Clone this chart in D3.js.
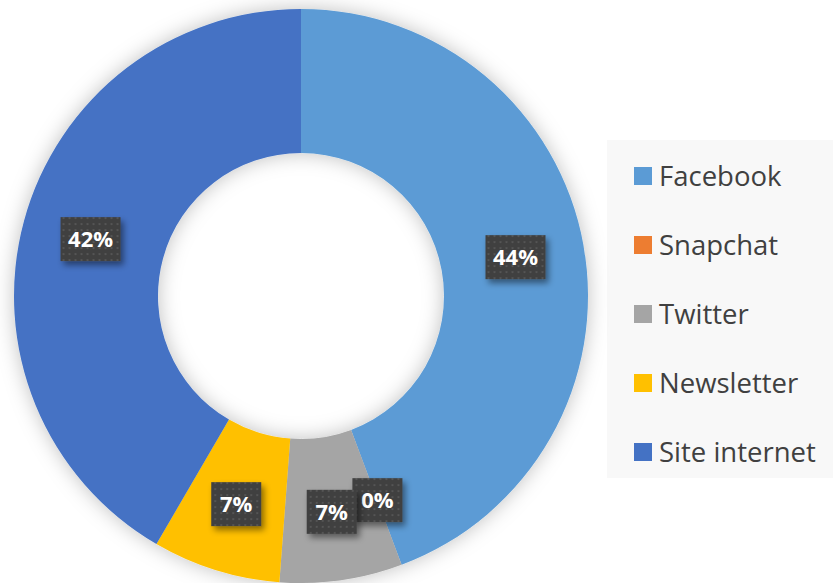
<!DOCTYPE html>
<html>
<head>
<meta charset="utf-8">
<script src="https://cdn.jsdelivr.net/npm/d3@7"></script>
<style>
  body { margin: 0; background: #fff; }
  svg { display: block; font-family: "Open Sans", "Noto Sans", sans-serif; }
</style>
</head>
<body>
<svg id="chart" width="833" height="583"></svg>
<script>
// chart values (percent of answers)
var categories = ["Facebook", "Snapchat", "Twitter", "Newsletter", "Site internet"];
var values = [44.3, 0, 6.9, 7.2, 41.6];
var colors = ["#5B9BD5", "#ED7D31", "#A5A5A5", "#FFC000", "#4472C4"];

var svg = d3.select("#chart");
var cx = 301, cy = 296, outerR = 287, innerR = 143;

var defs = svg.append("defs");

// soft glow around the ring
var glow = defs.append("filter").attr("id", "glow")
  .attr("x", "-20%").attr("y", "-20%").attr("width", "140%").attr("height", "140%");
glow.append("feDropShadow").attr("dx", 0).attr("dy", 0)
  .attr("stdDeviation", 10).attr("flood-color", "#000").attr("flood-opacity", 0.25);

// label box shadow
var boxShadow = defs.append("filter").attr("id", "boxShadow")
  .attr("x", "-30%").attr("y", "-30%").attr("width", "160%").attr("height", "170%");
boxShadow.append("feDropShadow").attr("dx", 3).attr("dy", 4)
  .attr("stdDeviation", 3).attr("flood-color", "#000").attr("flood-opacity", 0.45);

// dotted fill of the labels
var pat = defs.append("pattern").attr("id", "dots")
  .attr("patternUnits", "userSpaceOnUse").attr("width", 6).attr("height", 6);
pat.append("rect").attr("width", 6).attr("height", 6).attr("fill", "#3f3f3f");
pat.append("rect").attr("x", 2).attr("y", 2).attr("width", 2).attr("height", 2).attr("fill", "#555");

// legend background
svg.append("rect")
  .attr("x", 607).attr("y", 140).attr("width", 226).attr("height", 338)
  .attr("fill", "#f8f8f8");

var pie = d3.pie().sort(null).value(function(d){ return d; });
var arcs = pie(values);

var arc = d3.arc().innerRadius(innerR).outerRadius(outerR);
var labelArc = d3.arc().innerRadius(218).outerRadius(218);

var g = svg.append("g").attr("transform", "translate(" + cx + "," + cy + ")");

g.append("g").attr("filter", "url(#glow)")
  .selectAll("path")
  .data(arcs)
  .enter().append("path")
  .attr("d", arc)
  .attr("fill", function(d, i){ return colors[i]; });

// data labels
var fmt = function(v){
  var total = d3.sum(values);
  return Math.round(v / total * 100) + "%";
};

var label = g.selectAll(".lbl")
  .data(arcs)
  .enter().append("g")
  .attr("class", "lbl")
  .attr("transform", function(d){
    var c = labelArc.centroid(d);
    return "translate(" + c[0] + "," + c[1] + ")";
  });

label.append("rect")
  .attr("x", function(d){ return fmt(d.value).length > 2 ? -30 : -25; })
  .attr("y", -22)
  .attr("width", function(d){ return fmt(d.value).length > 2 ? 60 : 50; })
  .attr("height", 44)
  .attr("fill", "url(#dots)")
  .attr("filter", "url(#boxShadow)");

label.append("text")
  .attr("text-anchor", "middle")
  .attr("dy", "0.36em")
  .attr("fill", "#fff")
  .attr("font-weight", "bold")
  .attr("font-size", 22)
  .text(function(d){ return fmt(d.value); });

// legend
var legend = svg.append("g")
  .selectAll("g")
  .data(categories)
  .enter().append("g")
  .attr("transform", function(d, i){ return "translate(634," + (176 + i * 69) + ")"; });

legend.append("rect")
  .attr("x", 0).attr("y", -9).attr("width", 18).attr("height", 18)
  .attr("fill", function(d, i){ return colors[i]; });

legend.append("text")
  .attr("x", 25).attr("dy", "0.36em")
  .attr("font-size", 27.5)
  .attr("fill", "#404040")
  .text(function(d){ return d; });
</script>
</body>
</html>
